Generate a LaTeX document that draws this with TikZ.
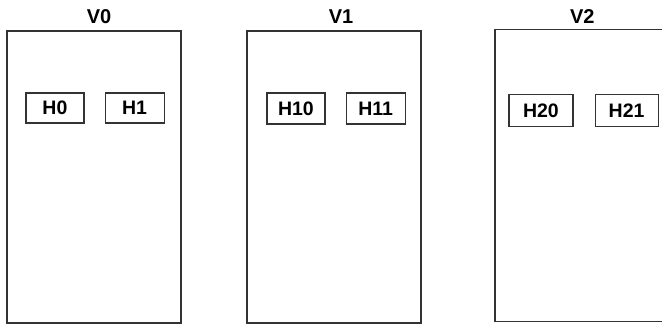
\documentclass[tikz,border=0pt]{standalone}
\usepackage{fontspec}
\setmainfont{Liberation Sans}
\usetikzlibrary{positioning}
\tikzset{
  vbox/.style={rectangle, draw=black!80, line width=1.4pt, minimum width=174pt, minimum height=292pt, inner sep=0pt},
  hbox/.style={rectangle, draw=black!80, line width=1.2pt, minimum width=58pt, minimum height=30pt, inner sep=0pt, font=\fontsize{19.5}{19.5}\selectfont\bfseries},
  vlabel/.style={font=\fontsize{20}{20}\selectfont\bfseries, inner sep=0pt}
}
\begin{document}
\begin{tikzpicture}[x=1pt, y=-1pt]
            \useasboundingbox (0,0) rectangle (662,325);

            % Vertex boxes
            \node[vbox] (v0) at (94,177) {};
            \node[vbox, right=64.6pt of v0] (v1) {};
            \node[vbox, minimum width=184pt, right=72.6pt of v1, yshift=1.5pt] (v2) {};

            % Labels above the boxes
            \node[vlabel, above=7pt of v0, anchor=base, xshift=5pt] (lv0) {V0};
            \node[vlabel, above=7pt of v1, anchor=base, xshift=7pt] (lv1) {V1};
            \node[vlabel, above=5.5pt of v2.north west, anchor=base, xshift=88pt] (lv2) {V2};

            % Inner boxes of V0
            \node[hbox, below right=62pt and 19pt of v0.north west] (h0) {H0};
            \node[hbox, minimum width=59pt, right=20pt of h0] (h1) {H1};

            % Inner boxes of V1
            \node[hbox, minimum height=31pt, below right=62pt and 20pt of v1.north west] (h10) {H10};
            \node[hbox, minimum height=31pt, minimum width=59pt, right=20pt of h10] (h11) {H11};

            % Inner boxes of V2
            \node[hbox, minimum width=64pt, minimum height=32pt, below right=65pt and 14pt of v2.north west] (h20) {H20};
            \node[hbox, minimum width=63pt, minimum height=32pt, right=21pt of h20] (h21) {H21};
        \end{tikzpicture}
\end{document}
